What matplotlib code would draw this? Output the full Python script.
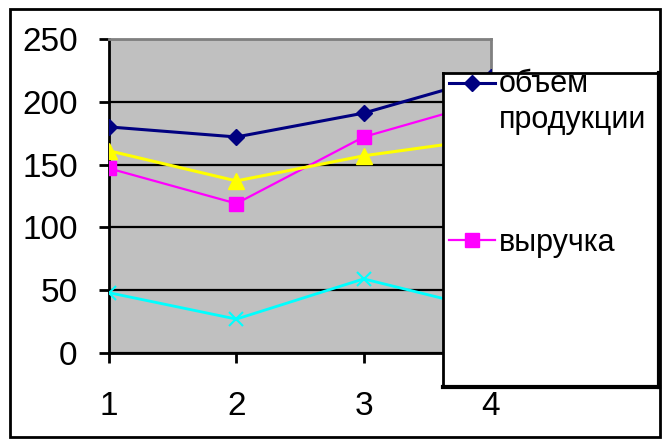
import matplotlib
matplotlib.use('Agg')
import matplotlib.pyplot as plt
from matplotlib.patches import Rectangle

plt.rcParams['font.family'] = ['Liberation Sans', 'DejaVu Sans']

# Daten
x = [1, 2, 3, 4]
obem = [180, 172, 191, 220]       # объем продукции
vyruchka = [147, 119, 172, 201]   # выручка
ryad3 = [161, 137, 157, 171]
ryad4 = [48, 27, 59, 34]
yticks = [0, 50, 100, 150, 200, 250]

W, H = 668, 445
fig = plt.figure(figsize=(W / 100, H / 100), dpi=100)

def px_box(l, t, r, b):
    # Pixelkoordinaten -> Figurkoordinaten
    return [l / W, (H - b) / H, (r - l) / W, (b - t) / H]

ax = fig.add_axes(px_box(109, 39, 491, 353))
ax.set_facecolor('#C0C0C0')

ax.plot(x, obem, color='#000080', lw=2.2, marker='D', ms=8.5, zorder=5)
ax.plot(x, vyruchka, color='#FF00FF', lw=1.6, marker='s', ms=10, zorder=5)
ax.plot(x, ryad3, color='#FFFF00', lw=2.2, marker='^', ms=11, zorder=5)
ax.plot(x, ryad4, color='#00FFFF', lw=2.0, marker='x', ms=9.5, mew=1.5, zorder=5)

ax.set_xlim(1, 4)
ax.set_ylim(0, 250)
ax.set_xticks(x)
ax.set_yticks(yticks)
ax.tick_params(axis='y', direction='out', length=7.5, width=2, pad=15, labelsize=24)
ax.tick_params(axis='x', direction='out', length=7.5, width=2, pad=20, labelsize=24)

ax.grid(axis='y', color='black', lw=1.6)
ax.set_axisbelow(True)
for s in ['left', 'bottom']:
    ax.spines[s].set_color('black')
    ax.spines[s].set_linewidth(2)
for s in ['top', 'right']:
    ax.spines[s].set_color('#808080')
    ax.spines[s].set_linewidth(2)
for lbl in ax.get_xticklabels() + ax.get_yticklabels():
    lbl.set_clip_on(False)

# Legende (von Hand, wie im Excel-Original)
lg = fig.add_axes(px_box(443, 73, 659, 387))
lg.set_xlim(443, 659)
lg.set_ylim(387, 73)
lg.set_xticks([])
lg.set_yticks([])
lg.set_facecolor('white')
for s in lg.spines.values():
    s.set_color('black')
    s.set_linewidth(2)
lg.spines['right'].set_linewidth(3)
lg.spines['bottom'].set_linewidth(3)

lg.plot([449, 495], [83, 83], color='#000080', lw=2.2)
lg.plot([472], [83], color='#000080', marker='D', ms=8.5)
lg.text(499, 92, 'объем', fontsize=22, va='baseline', ha='left')
lg.text(499, 128, 'продукции', fontsize=22, va='baseline', ha='left')

lg.plot([449, 495], [240, 240], color='#FF00FF', lw=1.6)
lg.plot([472], [240], color='#FF00FF', marker='s', ms=10)
lg.text(499, 251, 'выручка', fontsize=22, va='baseline', ha='left')

# Rahmen um das ganze Diagramm
fig.patches.append(Rectangle((10 / W, (H - 437) / H), 650 / W, 428 / H,
                             transform=fig.transFigure, fill=False,
                             edgecolor='black', lw=2))

fig.savefig('out.png', dpi=100)
